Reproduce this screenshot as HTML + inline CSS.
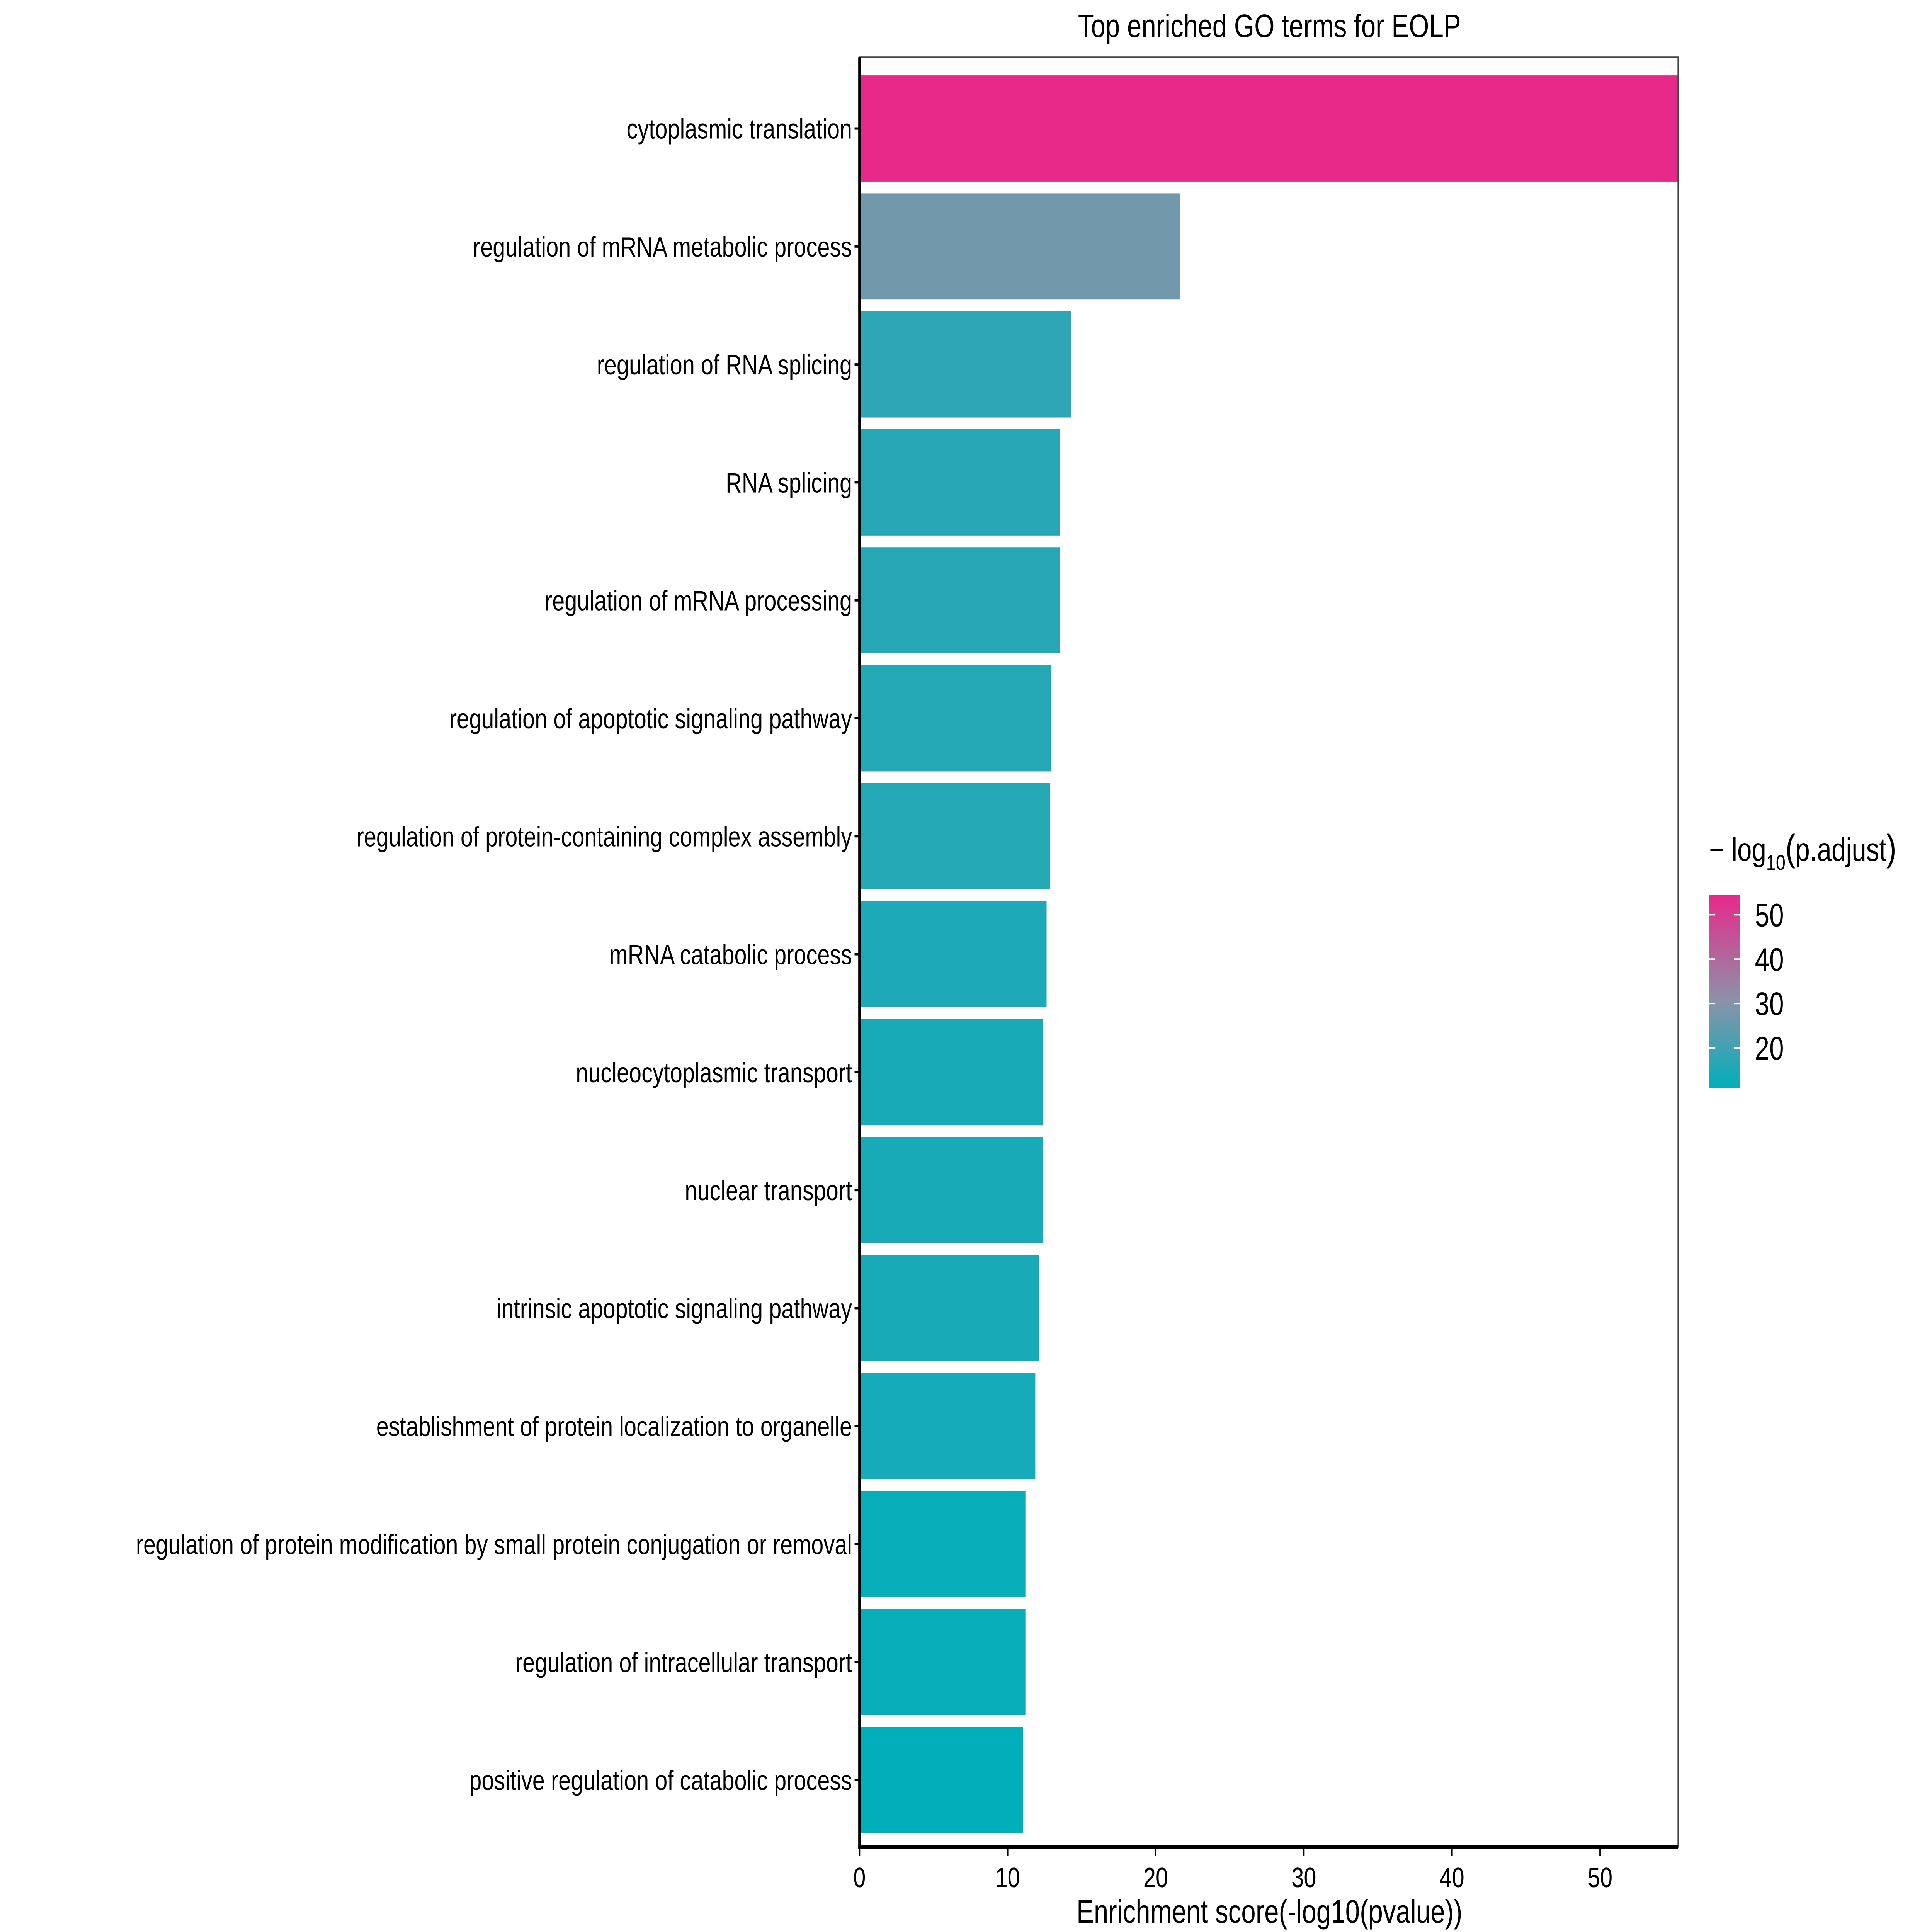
<!DOCTYPE html>
<html><head><meta charset="utf-8"><meta name="viewport" content="width=7500, initial-scale=1"><style>
html,body{margin:0;padding:0;background:#fff;width:100vw;height:100vh;overflow:hidden;}
svg{display:block;position:fixed;left:0;top:0;width:100vw;height:100vh;font-family:"Liberation Sans",sans-serif;}
</style></head><body>
<svg id="chart" viewBox="0 0 1560 1248" preserveAspectRatio="none" xmlns="http://www.w3.org/2000/svg">
<defs>
<linearGradient id="cbar" x1="0" y1="1" x2="0" y2="0">
<stop offset="0" stop-color="#00AFBB"/>
<stop offset="0.45" stop-color="#8A93A8"/>
<stop offset="1" stop-color="#E7298A"/>
</linearGradient>
</defs>
<rect x="0" y="0" width="1560" height="1248" fill="#fff"/>
<text x="1025" y="24" font-size="21" text-anchor="middle" fill="#000">Top enriched GO terms for EOLP</text>
<g id="bars"></g>
<g id="ylabels"></g>
<rect x="694" y="37" width="661" height="1156" fill="none" stroke="#444" stroke-width="1"/>
<line x1="694" y1="37" x2="694" y2="1194" stroke="#000" stroke-width="2"/>
<line x1="693" y1="1193" x2="1355" y2="1193" stroke="#000" stroke-width="2.5"/>
<g id="xticks"></g>
<text x="1025" y="1242" font-size="21" text-anchor="middle" fill="#000">Enrichment score(-log10(pvalue))</text>
<g id="legend">
<text x="1380" y="556" font-size="21" fill="#000">− log<tspan font-size="14" dy="6">10</tspan><tspan dy="-6" font-size="24">(</tspan>p.adjust<tspan font-size="24">)</tspan></text>
<rect x="1380" y="578" width="25" height="125" fill="url(#cbar)"/>
<g id="legticks"></g>
</g>
</svg>
<script>
const categories = ["cytoplasmic translation","regulation of mRNA metabolic process","regulation of RNA splicing","RNA splicing","regulation of mRNA processing","regulation of apoptotic signaling pathway","regulation of protein-containing complex assembly","mRNA catabolic process","nucleocytoplasmic transport","nuclear transport","intrinsic apoptotic signaling pathway","establishment of protein localization to organelle","regulation of protein modification by small protein conjugation or removal","regulation of intracellular transport","positive regulation of catabolic process"];
const scores = [55.3,21.65,14.3,13.55,13.55,12.96,12.88,12.63,12.37,12.37,12.12,11.87,11.2,11.2,11.04];
const padj = [54.5,27,17.5,16.5,16.5,16,16,15,14.5,14.5,14.5,14,12,12,11];
const xTicks = [0,10,20,30,40,50];
const legTicks = [20,30,40,50];

const NS="http://www.w3.org/2000/svg";
const X0=694, XPX=11.96, ROW0=83, ROWSTEP=76.2, BARH=68.6;
const CMIN=10.9, CMAX=54.5, LEGTOP=578, LEGBOT=703;
function xs(v){return X0+v*XPX;}
function ys(i){return ROW0+i*ROWSTEP;}
function ly(v){return LEGBOT-(v-CMIN)/(CMAX-CMIN)*(LEGBOT-LEGTOP);}
function hex(h){return [parseInt(h.slice(1,3),16),parseInt(h.slice(3,5),16),parseInt(h.slice(5,7),16)];}
const stops=[[0,hex("#00AFBB")],[0.45,hex("#8A93A8")],[1,hex("#E7298A")]];
function col(v){
  let t=Math.max(0,Math.min(1,(v-CMIN)/(CMAX-CMIN)));
  for(let k=0;k<stops.length-1;k++){
    const a=stops[k],b=stops[k+1];
    if(t<=b[0]){const f=(t-a[0])/(b[0]-a[0]);
      return "rgb("+a[1].map((c,j)=>Math.round(c+(b[1][j]-c)*f)).join(",")+")";}
  }
  return "#E7298A";
}
function mk(tag,attrs,parent){const e=document.createElementNS(NS,tag);for(const k in attrs)e.setAttribute(k,attrs[k]);parent.appendChild(e);return e;}
const gb=document.getElementById("bars"), gl=document.getElementById("ylabels");
categories.forEach((c,i)=>{
  const r=mk("rect",{x:X0,y:ys(i)-BARH/2,width:xs(scores[i])-X0,height:BARH,fill:col(padj[i])},gb);
  
  
  const t=mk("text",{x:688,y:ys(i)+6.5,"font-size":18,"text-anchor":"end",fill:"#000"},gl);
  t.textContent=c;
  
  
  const tk=mk("line",{x1:690,x2:694,y1:ys(i),y2:ys(i),stroke:"#000","stroke-width":1.5},gl);
  
  
});
const gx=document.getElementById("xticks");
xTicks.forEach(v=>{
  const l=mk("line",{x1:xs(v),x2:xs(v),y1:1193,y2:1199,stroke:"#000","stroke-width":1.2},gx);
  
  
  const t=mk("text",{x:xs(v),y:1219,"font-size":18,"text-anchor":"middle",fill:"#000"},gx);
  t.textContent=v;
  
  
});
const gt=document.getElementById("legticks");
legTicks.forEach(v=>{
  const a=mk("line",{x1:1380,x2:1385,y1:ly(v),y2:ly(v),stroke:"#fff","stroke-width":1},gt);
  
  
  const b=mk("line",{x1:1400,x2:1405,y1:ly(v),y2:ly(v),stroke:"#fff","stroke-width":1},gt);
  
  
  const t=mk("text",{x:1417,y:ly(v)+7.5,"font-size":21,fill:"#000"},gt);
  t.textContent=v;
  
  
});
</script>
</body></html>
